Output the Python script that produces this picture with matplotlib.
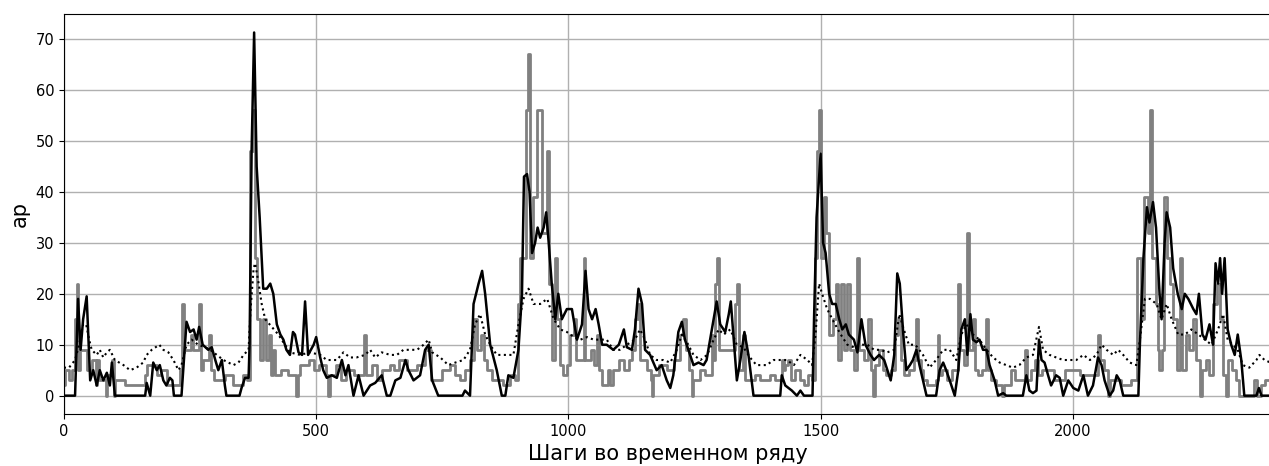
import numpy as np
import matplotlib
matplotlib.use("Agg")
import matplotlib.pyplot as plt

# observed ap index (step-like)
ap_x = [0, 3, 10, 16, 22, 25, 28, 32, 45, 55, 63, 66, 70, 83, 86, 95, 99, 102, 122, 160, 164, 184, 192, 204,
        230, 235, 238, 252, 256, 268, 271, 276, 288, 291, 298, 320, 336, 355, 362, 369, 374, 378, 382, 388,
        395, 400, 406, 410, 414, 418, 430, 445, 460, 464, 468, 485, 495, 505, 520, 524, 528, 540, 550, 560,
        575, 594, 598, 610, 620, 630, 647, 655, 665, 680, 700, 716, 728, 739, 750, 766, 775, 785, 795, 805,
        812, 818, 826, 832, 839, 848, 870, 885, 895, 901, 905, 916, 920, 923, 930, 938, 948, 958, 961, 967,
        974, 977, 984, 990, 997, 1004, 1011, 1016, 1030, 1033, 1044, 1050, 1057, 1061, 1066, 1078, 1083,
        1089, 1100, 1110, 1120, 1126, 1132, 1138, 1142, 1155, 1163, 1165, 1168, 1180, 1195, 1210, 1222,
        1228, 1233, 1240, 1245, 1248, 1260, 1270, 1284, 1287, 1291, 1295, 1299, 1330, 1334, 1338, 1347,
        1351, 1370, 1380, 1400, 1410, 1423, 1427, 1430, 1436, 1442, 1450, 1460, 1467, 1475, 1483, 1488,
        1493, 1497, 1501, 1506, 1511, 1517, 1524, 1531, 1535, 1541, 1546, 1553, 1558, 1566, 1573, 1577,
        1586, 1594, 1599, 1604, 1608, 1616, 1623, 1630, 1640, 1647, 1653, 1659, 1665, 1675, 1686, 1690,
        1694, 1700, 1703, 1710, 1729, 1732, 1735, 1740, 1750, 1760, 1773, 1777, 1784, 1790, 1795, 1803,
        1807, 1813, 1820, 1827, 1831, 1837, 1848, 1860, 1864, 1878, 1885, 1905, 1910, 1918, 1925, 1931,
        1938, 1962, 1985, 2015, 2050, 2054, 2062, 2070, 2074, 2095, 2115, 2128, 2136, 2142, 2150, 2154,
        2158, 2164, 2168, 2171, 2176, 2181, 2186, 2193, 2199, 2206, 2212, 2216, 2224, 2231, 2238, 2245,
        2252, 2256, 2264, 2271, 2278, 2285, 2291, 2298, 2304, 2308, 2316, 2324, 2330, 2360, 2366, 2374,
        2381, 2392]
ap_y = [2, 5, 3, 5, 15, 22, 5, 9, 5, 7, 2, 7, 3, 0, 4, 7, 0, 3, 2, 4, 6, 4, 5, 2,
        5, 18, 9, 12, 9, 18, 5, 7, 12, 5, 3, 4, 2, 4, 3, 48, 56, 27, 15, 7,
        15, 7, 12, 4, 9, 4, 5, 4, 0, 4, 6, 7, 5, 6, 4, 0, 4, 6, 3, 5,
        4, 12, 4, 6, 3, 5, 6, 5, 7, 5, 6, 9, 3, 3, 5, 6, 4, 3, 5, 7,
        15, 9, 12, 7, 5, 3, 2, 4, 3, 18, 27, 56, 67, 27, 39, 56, 32, 48, 22, 7,
        27, 15, 6, 4, 6, 12, 15, 7, 27, 7, 9, 6, 12, 5, 2, 5, 2,
        5, 7, 5, 7, 9, 15, 18, 7, 5, 3, 0, 4, 6, 5, 7, 12,
        15, 9, 5, 0, 3, 5, 4, 12, 7, 22, 27, 9, 18, 22, 5, 12,
        3, 4, 3, 4, 3, 7, 5, 6, 7, 3, 5, 3, 2, 4, 3, 27,
        48, 56, 27, 39, 32, 12, 15, 22, 7, 22, 9, 22, 9, 5, 27, 9,
        7, 15, 5, 0, 6, 9, 5, 4, 5, 12, 15, 7, 4, 5, 7, 15,
        7, 5, 3, 2, 3, 12, 4, 5, 3, 5, 22, 9, 6, 32, 9, 15,
        5, 4, 5, 15, 5, 3, 2, 0, 2, 5, 3, 9, 3, 5, 7, 4,
        5, 3, 5, 4, 12, 7, 5, 0, 3, 2, 3, 27, 15, 39, 32, 56,
        27, 18, 9, 5, 9, 39, 27, 22, 15, 5, 27, 5, 12, 9, 15, 7,
        0, 5, 7, 4, 18, 22, 15, 4, 0, 7, 5, 3, 0, 3, 0, 2,
        3, 3]

# model forecast (solid black)
pred_x = [0, 22, 28, 33, 38, 45, 52, 58, 65, 71, 78, 85, 91, 95, 101, 161, 164, 171, 177, 184, 190, 197, 203,
          210, 215, 218, 233, 243, 250, 257, 263, 268, 275, 286, 293, 300, 306, 313, 319, 322, 348, 352, 359,
          366, 368, 372, 377, 382, 388, 395, 402, 409, 415, 422, 429, 435, 441, 448, 454, 458, 465, 472, 478,
          484, 495, 500, 508, 514, 521, 531, 541, 551, 558, 564, 574, 584, 594, 607, 617, 630, 640, 647, 657,
          667, 677, 683, 693, 706, 716, 723, 730, 742, 790, 795, 805, 812, 822, 829, 835, 845, 858, 868, 875,
          881, 891, 901, 908, 912, 918, 923, 928, 934, 939, 944, 951, 956, 961, 967, 974, 980, 987, 997, 1007,
          1017, 1027, 1034, 1040, 1047, 1054, 1060, 1067, 1076, 1089, 1100, 1110, 1116, 1126, 1132, 1139, 1146,
          1152, 1162, 1175, 1185, 1195, 1202, 1208, 1218, 1225, 1231, 1238, 1248, 1258, 1268, 1274, 1281, 1288,
          1294, 1301, 1311, 1318, 1322, 1327, 1334, 1341, 1349, 1357, 1367, 1420, 1423, 1430, 1443, 1453, 1460,
          1467, 1484, 1487, 1492, 1497, 1500, 1505, 1510, 1517, 1523, 1530, 1537, 1543, 1550, 1556, 1566, 1573,
          1581, 1589, 1599, 1606, 1616, 1626, 1639, 1646, 1652, 1657, 1664, 1670, 1677, 1683, 1690, 1696, 1703,
          1710, 1729, 1736, 1743, 1749, 1756, 1766, 1773, 1779, 1786, 1791, 1797, 1802, 1809, 1815, 1822, 1829,
          1835, 1845, 1852, 1862, 1868, 1901, 1908, 1914, 1921, 1928, 1933, 1938, 1944, 1951, 1957, 1967, 1974,
          1981, 1991, 2001, 2011, 2021, 2030, 2040, 2050, 2057, 2063, 2073, 2080, 2087, 2093, 2100, 2130, 2133,
          2140, 2147, 2152, 2159, 2165, 2172, 2176, 2182, 2186, 2193, 2199, 2208, 2216, 2222, 2229, 2239, 2245,
          2250, 2257, 2263, 2271, 2278, 2283, 2288, 2292, 2296, 2301, 2307, 2314, 2321, 2327, 2334, 2340, 2364,
          2369, 2374, 2392]
pred_y = [0, 0, 19, 9, 15, 19.5, 3, 5, 2, 5, 3, 4.5, 2, 6.5, 0, 0, 2.5, 0, 6.5, 5, 6, 3, 2,
          3.5, 3, 0, 0, 14.5, 12.5, 13, 11, 13.5, 10, 9, 9.5, 7, 5, 7, 2, 0, 0, 1.5, 3.5,
          3.5, 10, 48, 71.3, 45, 35, 21, 21, 22, 20, 14, 12, 11, 9, 8, 12.5, 12, 8.5, 8, 18.5,
          8, 10, 11.5, 7.5, 5, 3.5, 4, 3.5, 7, 4, 6, 0, 4, 0, 2, 2.5, 4, 0, 0, 3,
          3.5, 7, 5, 3, 4, 9, 10, 3, 0, 0, 1, 0, 18, 22, 24.5, 20, 10, 5, 0, 0,
          4, 3.5, 9, 20, 43, 43.5, 40, 28, 30, 33, 31, 33, 36, 30, 22, 15, 20, 15, 17, 17,
          11, 14, 24.5, 17, 15, 17, 14, 10, 10, 9, 10, 13, 9.5, 9, 13, 21, 18,
          9, 8, 5, 6, 3, 1.5, 4, 12.5, 14.5, 11, 9, 6, 6.5, 6, 7, 11, 15,
          18.5, 14, 12.5, 16, 18.5, 12, 3, 7, 12.5, 8, 0, 0, 4, 2, 1, 0, 1,
          0, 0, 15, 35, 43, 47.5, 30, 28, 20, 18, 18, 15, 13, 14, 12, 11, 8.5,
          15, 10, 8, 7, 8, 7, 3, 8, 24, 22, 12, 5, 6, 7, 9, 6, 3,
          0, 0, 5, 6.5, 5, 3, 0, 5, 13, 15, 8, 16, 11, 10.5, 11, 9, 9,
          6, 3, 0, 0.5, 0, 0, 4, 1, 0.5, 1, 11, 7, 6.5, 4, 2, 4, 3.5,
          0, 3, 1.5, 1, 4, 0, 2, 7.5, 6, 3, 0, 1, 4, 3, 0, 0, 10,
          27, 37, 34, 38, 33, 20, 15, 30, 36, 33, 25, 20, 17, 20, 19, 17, 16,
          20, 12, 11, 14, 10, 26, 22, 27, 20, 27, 13, 10, 8, 12, 7, 0, 0,
          1.5, 0, 0]

# baseline forecast (dotted)
base_x = [0, 10, 22, 30, 38, 44, 50, 55, 65, 71, 78, 85, 91, 101, 118, 131, 144, 157, 164, 174, 189, 197, 207,
          217, 227, 233, 243, 253, 266, 280, 290, 303, 316, 336, 346, 356, 366, 370, 376, 379, 386, 392, 399,
          412, 425, 438, 448, 468, 488, 508, 521, 541, 554, 567, 580, 597, 607, 617, 630, 647, 660, 673, 686,
          700, 713, 723, 730, 746, 762, 776, 792, 805, 815, 825, 835, 845, 858, 871, 891, 901, 911, 921, 931,
          944, 958, 971, 984, 997, 1011, 1024, 1037, 1050, 1063, 1076, 1089, 1102, 1116, 1132, 1142, 1152,
          1162, 1175, 1188, 1202, 1215, 1225, 1235, 1248, 1262, 1275, 1288, 1298, 1308, 1321, 1334, 1347,
          1360, 1373, 1393, 1407, 1420, 1433, 1447, 1460, 1474, 1483, 1490, 1497, 1503, 1513, 1526, 1540,
          1553, 1566, 1579, 1593, 1606, 1619, 1632, 1646, 1656, 1665, 1675, 1688, 1703, 1716, 1729, 1743,
          1756, 1769, 1779, 1789, 1802, 1815, 1829, 1842, 1855, 1868, 1881, 1894, 1908, 1921, 1933, 1941,
          1954, 1967, 1981, 1994, 2007, 2021, 2034, 2047, 2057, 2067, 2080, 2090, 2100, 2113, 2126, 2133,
          2143, 2153, 2166, 2176, 2186, 2196, 2209, 2222, 2235, 2249, 2262, 2275, 2288, 2298, 2307, 2317,
          2327, 2337, 2350, 2364, 2370, 2380, 2392]
base_y = [5.5, 5.5, 7, 10, 14, 14, 11, 9, 8, 9, 7.5, 8.5, 9, 7, 6, 5, 5.5, 6.5, 8, 9, 10, 9, 8.5,
          7, 5, 6, 10, 11, 10, 9.5, 9, 8, 7, 6, 6.5, 8, 9, 17, 25, 26, 22, 18, 15,
          13.5, 12, 10, 8.5, 8, 8.5, 8, 7, 7, 8.5, 7.5, 7.5, 8, 9, 7.5, 8.5, 8, 8, 9, 9,
          9, 10, 11, 8.5, 7.5, 6, 6.5, 7, 9, 14, 16, 12, 10, 8, 8, 8, 14, 19, 21, 18,
          18, 19, 15, 13, 12.5, 11.5, 11, 11.5, 11, 11, 11, 9, 9, 10, 11, 13, 11,
          8, 7, 7, 6.5, 9, 12, 10.5, 8, 7, 8, 11, 13, 12, 13, 10, 9.5,
          7.5, 6, 6, 7, 7, 7, 6, 8, 7, 6, 12, 22, 20, 17, 14.5, 12,
          10, 9.5, 10, 10, 9, 9, 8.5, 9, 16, 13, 10, 10, 8, 5.5, 7, 9,
          9, 7, 12, 14, 12, 11, 9, 7.5, 6.5, 6, 5.5, 6, 7.5, 8, 13.5, 9,
          8, 7.5, 7, 7, 7, 8, 7, 8, 10, 9, 8, 9, 8, 6.5, 6, 11,
          19, 19, 18, 15, 18, 15, 12, 12, 13, 12, 11, 10, 13, 16, 11, 10,
          9, 6, 5.5, 7, 8, 7, 6.5]

fig = plt.figure(figsize=(12.69, 4.66), dpi=100)
ax = fig.add_axes([0.0504, 0.1116, 0.952, 0.858])

ax.plot(ap_x, ap_y, color='gray', linewidth=2, drawstyle='steps-post')
ax.plot(pred_x, pred_y, color='black', linewidth=1.8)
ax.plot(base_x, base_y, color='black', linewidth=1.5, linestyle=':')

ax.set_xlim(0, 2395)
ax.set_ylim(-3.6, 74.9)
ax.set_yticks([0, 10, 20, 30, 40, 50, 60, 70])
ax.set_xticks([0, 500, 1000, 1500, 2000])
ax.tick_params(labelsize=10.5)
ax.set_xlabel("Шаги во временном ряду", fontsize=15)
ax.set_ylabel("ap", fontsize=15)
ax.grid(True, color='#b0b0b0', linewidth=1)

fig.savefig("out.png", dpi=100)
